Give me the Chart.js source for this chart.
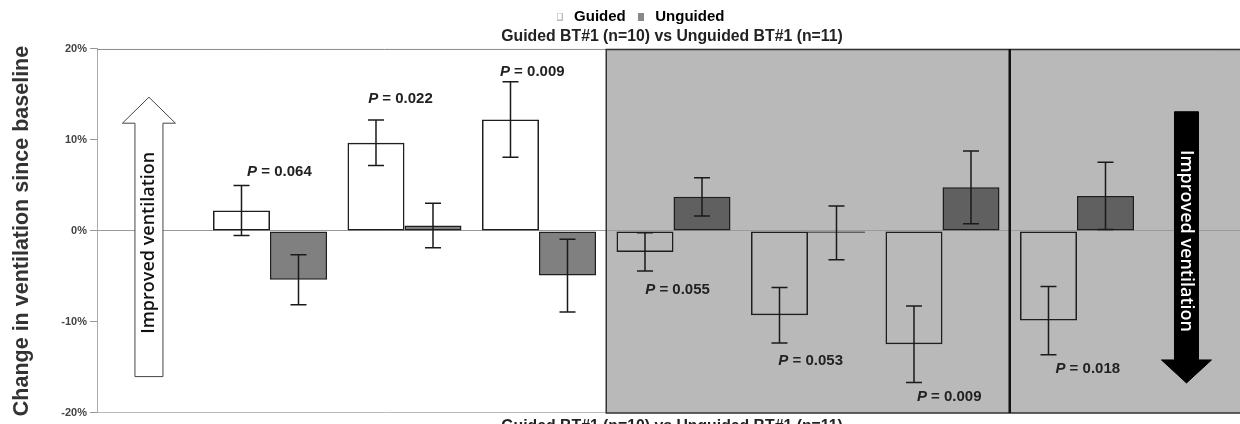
<!DOCTYPE html>
<html><head><meta charset="utf-8">
<script src="https://cdn.jsdelivr.net/npm/chart.js@4.4.1/dist/chart.umd.min.js"></script>
<style>
html,body{margin:0;padding:0;overflow:hidden;background:#fff;width:1240px;height:424px;}
canvas{display:block;}
</style></head><body>
<canvas id="c" width="1280" height="444"></canvas>
<script>
// ---- data ----
const groups = [0, 1, 2, 3, 4, 5, 6];
const guidedValues   = [2.25, 9.7, 12.25, -2.3, -9.25, -12.45, -9.85];
const guidedErrors   = [2.75, 2.5, 4.15, 2.1, 3.05, 4.2, 3.75];
const unguidedValues = [-5.35, 0.6, -4.9, 3.75, -0.2, 4.8, 3.85];
const unguidedErrors = [2.75, 2.45, 4.0, 2.1, 2.95, 4.0, 3.7];
const pValues = ['0.064', '0.022', '0.009', '0.055', '0.053', '0.009', '0.018'];
const pLabelX = [0.07, 0.97, 1.95, 3.03, 4.02, 5.05, 6.08];
const pLabelY = [6.5, 14.5, 17.5, -6.5, -14.3, -18.2, -15.2];
const yTicks = [-20, -10, 0, 10, 20];
const xRange = [-1.2862, 7.264];
const shadedFrom = 2.5;
const dividerAt = 5.5;

const FAM = '"Liberation Sans", Arial, sans-serif';
const ARROW_FONT = '600 18px "Open Sans", sans-serif';

const arrows = [
  {x: -0.9, tail: -16.0, tip: 14.7, textAt: -1.3, shaft: 28, head: 53, headH: 26, fill: '#ffffff', stroke: '#444', textColor: '#111', rot: -Math.PI/2},
  {x: 6.814, tail: 13.1, tip: -16.7, textAt: -1.1, shaft: 24, head: 50, headH: 23, fill: '#000000', stroke: '#000', textColor: '#fff', rot: Math.PI/2}
];

function legendBox(fill, stroke) {
  const c = document.createElement('canvas');
  c.width = 6; c.height = 8;
  const g = c.getContext('2d');
  g.fillStyle = fill; g.fillRect(0, 0, 6, 8);
  g.strokeStyle = stroke; g.lineWidth = 1; g.strokeRect(0.5, 0.5, 5, 7);
  return c;
}

const decor = {
  id: 'decor',
  beforeDraw(chart) {
    const {ctx, chartArea: a, scales: {x}} = chart;
    const gx = x.getPixelForValue(shadedFrom);
    ctx.save();
    ctx.fillStyle = '#b9b9b9';
    ctx.fillRect(gx, a.top, a.right - gx, a.bottom - a.top);
    ctx.restore();
  },
  afterDatasetsDraw(chart) {
    const {ctx, scales: {x, y}} = chart;
    ctx.save();
    ctx.strokeStyle = '#1a1a1a';
    ctx.lineWidth = 1.5;
    const cap = 8;
    [[guidedValues, guidedErrors], [unguidedValues, unguidedErrors]].forEach((pair, di) => {
      const meta = chart.getDatasetMeta(di);
      meta.data.forEach((bar, j) => {
        const v = pair[0][j], e = pair[1][j];
        const yt = y.getPixelForValue(v + e), yb = y.getPixelForValue(v - e);
        ctx.beginPath();
        ctx.moveTo(bar.x, yt); ctx.lineTo(bar.x, yb);
        ctx.moveTo(bar.x - cap, yt); ctx.lineTo(bar.x + cap, yt);
        ctx.moveTo(bar.x - cap, yb); ctx.lineTo(bar.x + cap, yb);
        ctx.stroke();
      });
    });
    ctx.fillStyle = '#222';
    ctx.textBaseline = 'middle';
    ctx.textAlign = 'left';
    pValues.forEach((p, k) => {
      const cx = x.getPixelForValue(pLabelX[k]);
      const cy = y.getPixelForValue(pLabelY[k]);
      ctx.font = 'italic bold 15px ' + FAM;
      const wP = ctx.measureText('P').width;
      ctx.font = 'bold 15px ' + FAM;
      const rest = ' = ' + p;
      const wR = ctx.measureText(rest).width;
      const sx = cx - (wP + wR) / 2;
      ctx.font = 'italic bold 15px ' + FAM;
      ctx.fillText('P', sx, cy);
      ctx.font = 'bold 15px ' + FAM;
      ctx.fillText(rest, sx + wP, cy);
    });
    ctx.restore();
  },
  afterDraw(chart) {
    const {ctx, chartArea: a, scales: {x, y}} = chart;
    ctx.save();
    ctx.strokeStyle = '#8a8a8a';
    ctx.lineWidth = 1;
    ctx.beginPath(); ctx.moveTo(a.left, a.top + 0.5); ctx.lineTo(a.right, a.top + 0.5); ctx.stroke();
    const gx = x.getPixelForValue(shadedFrom);
    ctx.strokeStyle = '#333';
    ctx.lineWidth = 1.5;
    ctx.beginPath();
    ctx.moveTo(a.right + 5, a.top + 0.5); ctx.lineTo(gx, a.top + 0.5);
    ctx.lineTo(gx, a.bottom); ctx.lineTo(a.right + 5, a.bottom);
    ctx.stroke();
    const dx = x.getPixelForValue(dividerAt);
    ctx.strokeStyle = '#111';
    ctx.lineWidth = 2.5;
    ctx.beginPath(); ctx.moveTo(dx, a.top); ctx.lineTo(dx, a.bottom); ctx.stroke();
    arrows.forEach(ar => {
      const cx = x.getPixelForValue(ar.x);
      const yTail = y.getPixelForValue(ar.tail);
      const yTip = y.getPixelForValue(ar.tip);
      const dir = Math.sign(yTip - yTail);
      const yBase = yTip - dir * ar.headH;
      ctx.beginPath();
      ctx.moveTo(cx - ar.shaft/2, yTail);
      ctx.lineTo(cx - ar.shaft/2, yBase);
      ctx.lineTo(cx - ar.head/2, yBase);
      ctx.lineTo(cx, yTip);
      ctx.lineTo(cx + ar.head/2, yBase);
      ctx.lineTo(cx + ar.shaft/2, yBase);
      ctx.lineTo(cx + ar.shaft/2, yTail);
      ctx.closePath();
      ctx.fillStyle = ar.fill;
      ctx.fill();
      ctx.strokeStyle = ar.stroke;
      ctx.lineWidth = 1;
      ctx.stroke();
      ctx.save();
      ctx.translate(cx, y.getPixelForValue(ar.textAt));
      ctx.rotate(ar.rot);
      ctx.font = ARROW_FONT;
      ctx.fillStyle = ar.textColor;
      ctx.textAlign = 'center';
      ctx.textBaseline = 'middle';
      ctx.fillText('Improved ventilation', 0, 0);
      ctx.restore();
    });
    ctx.restore();
  }
};

const guidedBox = legendBox('#ffffff', '#bbbbbb');
const unguidedBox = legendBox('#888888', '#888888');

new Chart(document.getElementById('c'), {
  type: 'bar',
  data: {
    datasets: [
      {
        label: 'Guided',
        data: groups.map(i => ({x: i, y: guidedValues[i]})),
        backgroundColor: 'rgba(255,255,255,0)',
        borderColor: '#1e1e1e',
        borderWidth: 1.5,
        borderSkipped: false,
        categoryPercentage: 0.8476,
        barPercentage: 1
      },
      {
        label: 'Unguided',
        data: groups.map(i => ({x: i, y: unguidedValues[i]})),
        backgroundColor: 'rgba(24,24,24,0.55)',
        borderColor: '#1e1e1e',
        borderWidth: 1.5,
        borderSkipped: false,
        categoryPercentage: 0.8476,
        barPercentage: 1
      }
    ]
  },
  options: {
    responsive: false,
    animation: false,
    layout: {padding: {top: 1, right: 33, left: 30, bottom: 0}},
    plugins: {
      tooltip: {enabled: false},
      legend: {
        position: 'top',
        weight: 3000,
        labels: {
          usePointStyle: true,
          pointStyleWidth: 14,
          boxHeight: 7,
          padding: 8,
          color: '#222',
          font: {family: FAM, size: 15, weight: 'bold'},
          generateLabels: () => [
            {text: 'Guided', fillStyle: '#ffffff', strokeStyle: '#bbbbbb', lineWidth: 0, pointStyle: guidedBox, rotation: 0, datasetIndex: 0, hidden: false},
            {text: 'Unguided', fillStyle: '#888888', strokeStyle: '#888888', lineWidth: 0, pointStyle: unguidedBox, rotation: 0, datasetIndex: 1, hidden: false}
          ]
        }
      },
      title: {
        display: true,
        fullSize: false,
        weight: 2000,
        text: 'Guided BT#1 (n=10) vs Unguided BT#1 (n=11)',
        color: '#222',
        font: {family: FAM, size: 15.8, weight: 'bold'},
        padding: {top: -7, bottom: 3}
      }
    },
    scales: {
      x: {
        type: 'linear',
        offset: false,
        min: xRange[0],
        max: xRange[1],
        afterBuildTicks: s => { s.ticks = groups.map(i => ({value: i})); },
        ticks: {display: false},
        grid: {display: false, drawTicks: false},
        border: {display: true, color: '#bbbbbb', width: 1},
        title: {
          display: true,
          text: 'Guided BT#1 (n=10) vs Unguided BT#1 (n=11)',
          color: '#222',
          font: {family: FAM, size: 15.8, weight: 'bold'},
          padding: {top: 0, bottom: 8}
        },
        afterFit: s => { s.height = 31; }
      },
      y: {
        min: yTicks[0],
        max: yTicks[yTicks.length - 1],
        afterBuildTicks: s => { s.ticks = yTicks.map(v => ({value: v})); },
        ticks: {
          callback: v => v + '%',
          color: '#444',
          padding: 3,
          font: {family: FAM, size: 11, weight: 'bold'}
        },
        grid: {
          color: c => (c.tick && c.tick.value === 0) ? '#9a9a9a' : 'rgba(0,0,0,0)',
          tickColor: '#999',
          tickLength: 7,
          lineWidth: 1
        },
        border: {display: true, color: '#aaaaaa', width: 1},
        title: {
          display: true,
          text: 'Change in ventilation since baseline',
          color: '#333',
          font: {family: FAM, size: 21.5, weight: 'bold'},
          padding: {top: -20.9, bottom: 0}
        },
        afterFit: s => { s.width = 67; }
      }
    }
  },
  plugins: [decor]
});
</script>
</body></html>
